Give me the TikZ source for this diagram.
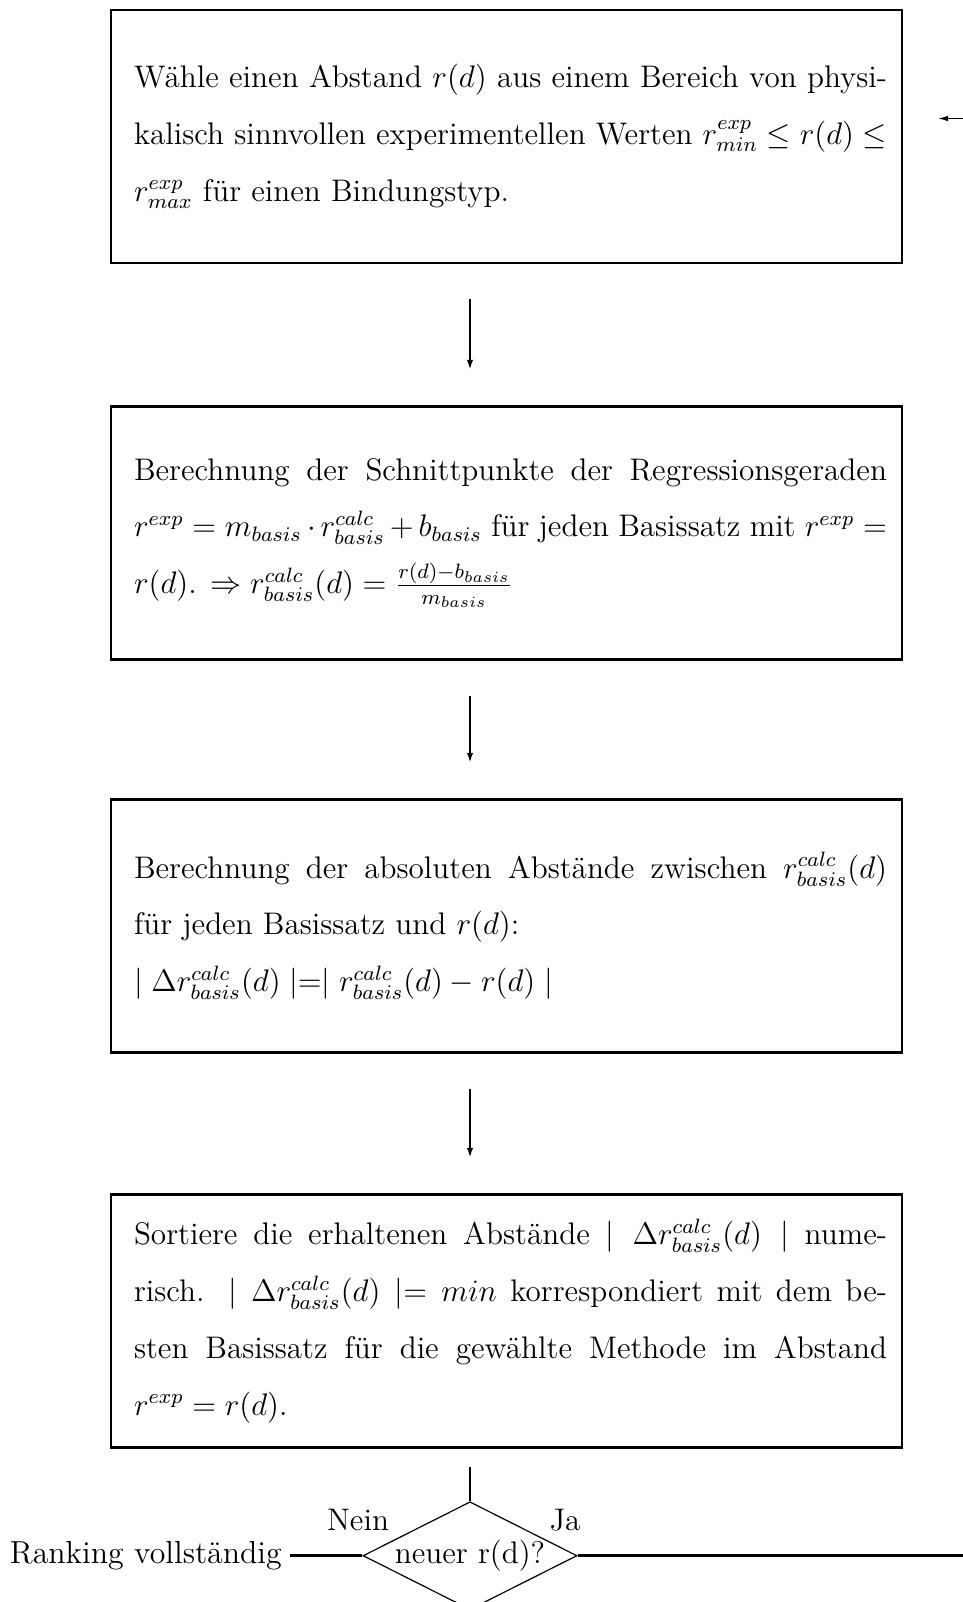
\documentclass[tikz,border=0pt]{standalone}
\usetikzlibrary{shapes.geometric,arrows.meta}
\tikzset{
  stepbox/.style={draw,rectangle,line width=0.95pt,inner xsep=5.77pt,inner ysep=0pt,
    minimum height=97.3pt,font={\fontsize{12}{21.8}\selectfont}},
  decision/.style={diamond,draw,line width=0.46pt,aspect=2,inner sep=0pt,minimum width=82.3pt,
    minimum height=41.5pt,font={\fontsize{12}{14}\selectfont}},
  lbl/.style={inner sep=0.6pt,font={\fontsize{12}{14}\selectfont}},
  flow/.style={line width=0.98pt,-{Latex[length=3.9pt,width=2.5pt]},shorten <=13.46pt,shorten >=13.6pt},
  link/.style={line width=0.8pt,shorten <=6.9pt},
  heavy/.style={line width=0.98pt},
  back/.style={line width=0.52pt,-{Latex[length=3.9pt,width=2.2pt]}}
}
\newcommand{\boxtext}[1]{\hspace*{3.08pt}\parbox[c]{289.6pt}{\hyphenpenalty=10000\tolerance=10000\relax #1}}
\begin{document}
\begin{tikzpicture}[x=0.3846pt,y=-0.3846pt]
\useasboundingbox (0,0) rectangle (962,1602);

\node[stepbox] (box1) at (506.5,136.5) {\boxtext{Wähle einen Abstand $r(d)$ aus einem Bereich von physi-\linebreak kalisch sinnvollen experimentellen Werten $r^{exp}_{min}\leq r(d)\leq$\linebreak $r^{exp}_{max}$ für einen Bindungstyp.}};

\node[stepbox] (box2) at (506.5,533) {\boxtext{Berechnung der Schnittpunkte der Regressionsgeraden\linebreak $r^{exp}=m_{basis}\cdot r^{calc}_{basis}+b_{basis}$ für jeden Basissatz mit $r^{exp}=$\linebreak $r(d)$. $\Rightarrow r^{calc}_{basis}(d)=\frac{r(d)-b_{basis}}{m_{basis}}$}};

\node[stepbox] (box3) at (506.5,926) {\boxtext{Berechnung der absoluten Abstände zwischen $r^{calc}_{basis}(d)$\linebreak für jeden Basissatz und $r(d)$:\newline $\mid\Delta r^{calc}_{basis}(d)\mid=\mid r^{calc}_{basis}(d)-r(d)\mid$}};

\node[stepbox] (box4) at (506.5,1321) {\boxtext{Sortiere die erhaltenen Abstände $\mid\Delta r^{calc}_{basis}(d)\mid$ nume-\linebreak risch. $\mid\Delta r^{calc}_{basis}(d)\mid=min$ korrespondiert mit dem be-\linebreak sten Basissatz für die gewählte Methode im Abstand\linebreak $r^{exp}=r(d)$.}};

\node[decision] (dia) at (470,1555.7) {neuer r(d)?};
\node[lbl,anchor=east,inner xsep=3pt,font={\fontsize{12.25}{14}\selectfont}] (rank) at (290,1555.7) {Ranking vollständig};
\node[lbl] (nein) at (358,1520) {Nein};
\node[lbl] (ja) at (565,1520) {Ja};

\coordinate (loopB) at (1000,1555.7);
\coordinate (loopT) at (1000,118.5);
\coordinate (loopE) at (938,118.5);

\draw[flow] (box1.south -| dia.north) -- (box2.north -| dia.north);
\draw[flow] (box2.south -| dia.north) -- (box3.north -| dia.north);
\draw[flow] (box3.south -| dia.north) -- (box4.north -| dia.north);
\draw[link] (box4.south -| dia.north) -- (dia.north);
\draw[heavy] (dia.west) -- (rank.east);
\draw[heavy] (dia.east) -- (loopB) -- (loopT);
\draw[back] (loopT) -- (loopE);
\end{tikzpicture}
\end{document}
